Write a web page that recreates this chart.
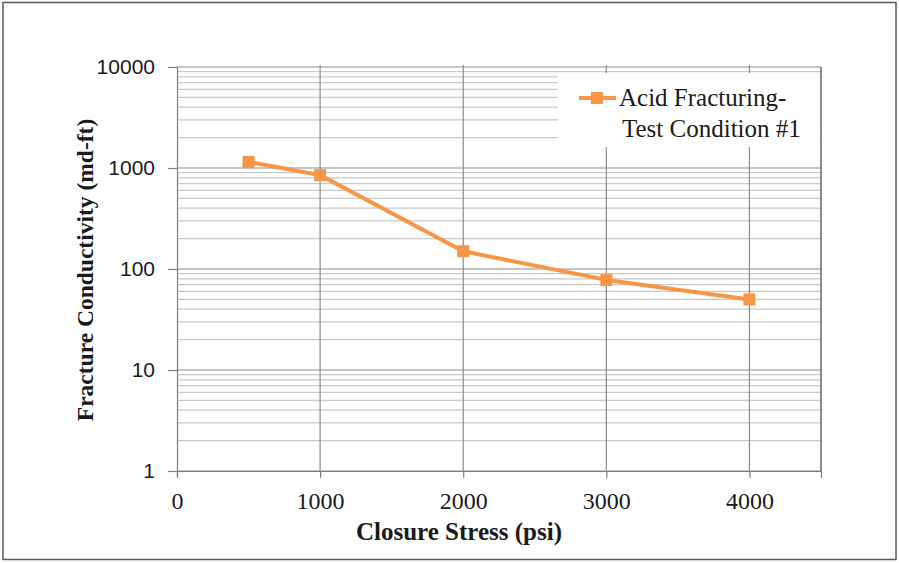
<!DOCTYPE html>
<html lang="en">
  <head>
    <meta charset="UTF-8" />
    <script src="https://cdn.jsdelivr.net/npm/d3@7"></script>
    <style>
      * {
        margin: 0;
        padding: 0;
      }
      body {
        background: #fff;
      }
    </style>
    <title>Fracture Conductivity</title>
  </head>
  <body>
    <div id="chart"></div>
    <script>
      // data
      const stress = [500, 1000, 2000, 3000, 4000];
      const conductivity = [1150, 850, 150, 78, 50];
      const xTicks = [0, 1000, 2000, 3000, 4000];
      const yTicks = [1, 10, 100, 1000, 10000];
      const seriesName = ['Acid Fracturing-', 'Test Condition #1'];

      const width = 899;
      const height = 563;
      const margin = { top: 67, right: 78, bottom: 92, left: 177 };
      const orange = '#f79646';
      const serif = '"Liberation Serif", "Times New Roman", serif';

      const svg = d3
        .select('#chart')
        .append('svg')
        .attr('width', width)
        .attr('height', height);

      // outer frame
      svg
        .append('rect')
        .attr('x', 3)
        .attr('y', 2.5)
        .attr('width', 893)
        .attr('height', 557)
        .attr('fill', '#fff')
        .attr('stroke', '#595959')
        .attr('stroke-width', 1.5);

      const x = d3
        .scaleLinear()
        .domain([0, 4500])
        .range([margin.left, width - margin.right]);
      const y = d3
        .scaleLog()
        .domain([1, 10000])
        .range([height - margin.bottom, margin.top]);

      // minor gridlines 2..9 in each decade
      const minor = [];
      for (let d = 1; d < 10000; d *= 10) {
        for (let k = 2; k < 10; k++) minor.push(d * k);
      }
      const grid = svg.append('g');
      grid
        .selectAll('line.minor')
        .data(minor)
        .join('line')
        .attr('class', 'minor')
        .attr('x1', x(0))
        .attr('x2', x(4500))
        .attr('y1', (d) => y(d))
        .attr('y2', (d) => y(d))
        .attr('stroke', '#c9c9c9')
        .attr('stroke-width', 1.2);
      grid
        .selectAll('line.major')
        .data(yTicks)
        .join('line')
        .attr('class', 'major')
        .attr('x1', x(0))
        .attr('x2', x(4500))
        .attr('y1', (d) => y(d))
        .attr('y2', (d) => y(d))
        .attr('stroke', '#8c8c8c')
        .attr('stroke-width', 1.2);
      grid
        .selectAll('line.vert')
        .data(xTicks.slice(1))
        .join('line')
        .attr('class', 'vert')
        .attr('x1', (d) => x(d))
        .attr('x2', (d) => x(d))
        .attr('y1', y(10000) - 2)
        .attr('y2', y(1))
        .attr('stroke', '#8c8c8c')
        .attr('stroke-width', 1.2);

      // right edge of plot area
      svg
        .append('line')
        .attr('x1', x(4500))
        .attr('x2', x(4500))
        .attr('y1', y(10000))
        .attr('y2', y(1))
        .attr('stroke', '#404040')
        .attr('stroke-width', 1.2);

      // axes
      const yAxis = d3
        .axisLeft(y)
        .tickValues(yTicks)
        .tickFormat(d3.format('d'))
        .tickSize(9)
        .tickPadding(13);
      const yg = svg
        .append('g')
        .attr('transform', `translate(${x(0)},0)`)
        .call(yAxis);
      yg.select('.domain').attr('stroke', '#7f7f7f').attr('stroke-width', 1.2);
      yg.selectAll('.tick line').attr('stroke', '#7f7f7f').attr('stroke-width', 1.2);
      yg.selectAll('.tick text')
        .attr('font-family', '"Liberation Sans", Arial, sans-serif')
        .attr('font-size', 21)
        .attr('fill', '#1a1a1a');

      const xAxis = d3
        .axisBottom(x)
        .tickValues(xTicks)
        .tickFormat(d3.format('d'))
        .tickSize(7)
        .tickPadding(14);
      const xg = svg
        .append('g')
        .attr('transform', `translate(0,${y(1)})`)
        .call(xAxis);
      xg.select('.domain').attr('stroke', '#7f7f7f').attr('stroke-width', 1.2);
      xg.selectAll('.tick line').attr('stroke', '#7f7f7f').attr('stroke-width', 1.2);
      xg.selectAll('.tick text')
        .attr('font-family', serif)
        .attr('font-size', 24)
        .attr('fill', '#1a1a1a');

      // axis titles
      svg
        .append('text')
        .text('Closure Stress (psi)')
        .attr('x', 459)
        .attr('y', 540)
        .attr('text-anchor', 'middle')
        .attr('font-family', serif)
        .attr('font-weight', 'bold')
        .attr('font-size', 25)
        .attr('fill', '#1a1a1a');
      svg
        .append('text')
        .text('Fracture Conductivity (md-ft)')
        .attr('transform', `translate(93,270) rotate(-90)`)
        .attr('text-anchor', 'middle')
        .attr('font-family', serif)
        .attr('font-weight', 'bold')
        .attr('font-size', 23.5)
        .attr('fill', '#1a1a1a');

      // series
      const pts = stress.map((s, i) => ({ s, c: conductivity[i] }));
      svg
        .append('path')
        .datum(pts)
        .attr('fill', 'none')
        .attr('stroke', orange)
        .attr('stroke-width', 4)
        .attr('stroke-linejoin', 'round')
        .attr(
          'd',
          d3
            .line()
            .x((d) => x(d.s))
            .y((d) => y(d.c))
        );
      svg
        .selectAll('rect.pt')
        .data(pts)
        .join('rect')
        .attr('class', 'pt')
        .attr('x', (d) => x(d.s) - 6)
        .attr('y', (d) => y(d.c) - 6)
        .attr('width', 12)
        .attr('height', 12)
        .attr('fill', orange);

      // legend
      const lg = svg.append('g');
      lg.append('rect')
        .attr('x', 558)
        .attr('y', 73)
        .attr('width', 262)
        .attr('height', 74)
        .attr('fill', '#fff');
      lg.append('line')
        .attr('x1', 579)
        .attr('x2', 616)
        .attr('y1', 98)
        .attr('y2', 98)
        .attr('stroke', orange)
        .attr('stroke-width', 4);
      lg.append('rect')
        .attr('x', 591)
        .attr('y', 92)
        .attr('width', 12)
        .attr('height', 12)
        .attr('fill', orange);
      lg.selectAll('text')
        .data(seriesName)
        .join('text')
        .text((d) => d)
        .attr('x', (d, i) => (i === 0 ? 619 : 622))
        .attr('y', (d, i) => 106 + i * 31)
        .attr('font-family', serif)
        .attr('font-size', 25)
        .attr('fill', '#1a1a1a');
    </script>
  </body>
</html>
